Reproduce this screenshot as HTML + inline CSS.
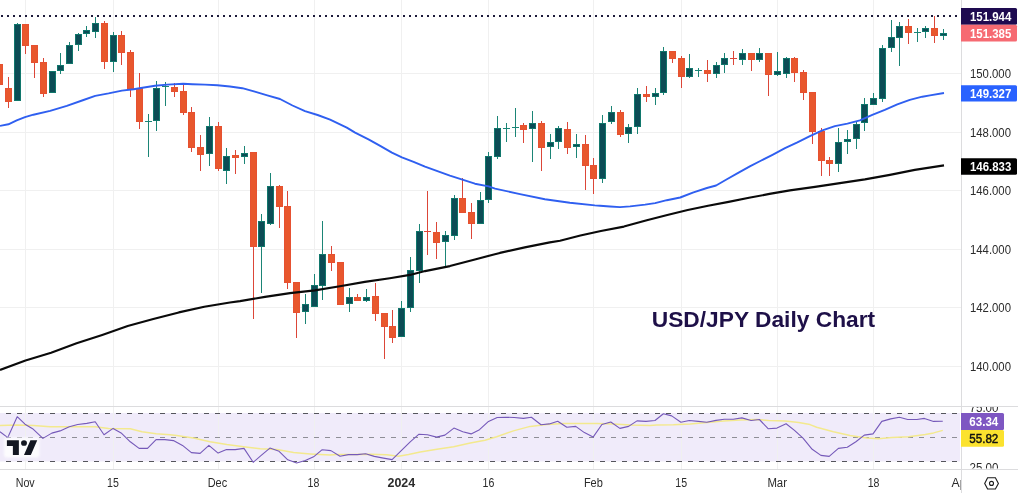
<!DOCTYPE html>
<html lang="en"><head><meta charset="utf-8"><title>USD/JPY Daily Chart</title>
<style>html,body{margin:0;padding:0;background:#fff}body{width:1018px;height:493px;overflow:hidden}svg{display:block}text{font-family:"Liberation Sans",Arial,sans-serif;font-size:12px}</style></head><body>
<svg width="1018" height="493" viewBox="0 0 1018 493">
<defs><clipPath id="cm"><rect x="0" y="0" width="961" height="406"/></clipPath><clipPath id="cr"><rect x="0" y="407" width="961" height="62"/></clipPath><clipPath id="ca"><rect x="962" y="407" width="56" height="61.6"/></clipPath><clipPath id="ct"><rect x="0" y="470" width="961" height="23"/></clipPath><filter id="bl" x="-20%" y="-20%" width="140%" height="140%"><feGaussianBlur stdDeviation="1.2"/></filter></defs>
<rect width="1018" height="493" fill="#fff"/>
<rect x="0" y="413" width="960" height="48.5" fill="#f0ebfa"/>
<g stroke="#f0f0f0" stroke-width="1" shape-rendering="crispEdges">
<line x1="25.5" y1="0" x2="25.5" y2="469"/>
<line x1="113.5" y1="0" x2="113.5" y2="469"/>
<line x1="218.5" y1="0" x2="218.5" y2="469"/>
<line x1="314.5" y1="0" x2="314.5" y2="469"/>
<line x1="401.5" y1="0" x2="401.5" y2="469"/>
<line x1="488.5" y1="0" x2="488.5" y2="469"/>
<line x1="593.5" y1="0" x2="593.5" y2="469"/>
<line x1="681.5" y1="0" x2="681.5" y2="469"/>
<line x1="777.5" y1="0" x2="777.5" y2="469"/>
<line x1="873.5" y1="0" x2="873.5" y2="469"/>
<line x1="0" y1="73.5" x2="961" y2="73.5"/>
<line x1="0" y1="132.5" x2="961" y2="132.5"/>
<line x1="0" y1="190.5" x2="961" y2="190.5"/>
<line x1="0" y1="249.5" x2="961" y2="249.5"/>
<line x1="0" y1="307.5" x2="961" y2="307.5"/>
<line x1="0" y1="366.5" x2="961" y2="366.5"/>
</g>
<g stroke-width="1" stroke-dasharray="5 6" fill="none" shape-rendering="crispEdges">
<line x1="-5" y1="413.5" x2="958" y2="413.5" stroke="#55555c"/>
<line x1="-5" y1="437.5" x2="958" y2="437.5" stroke="#8e8e96"/>
<line x1="-5" y1="461.5" x2="958" y2="461.5" stroke="#55555c"/>
</g>
<line x1="1" y1="16" x2="961" y2="16" stroke="#1c1a3a" stroke-width="2" stroke-dasharray="2 4"/>
<g clip-path="url(#cm)" shape-rendering="crispEdges">
<rect x="-1.0" y="63.5" width="1" height="21.8" fill="#dc4638"/>
<rect x="-4.0" y="63.5" width="7" height="21.8" fill="#e65131"/>
<rect x="-3.0" y="64.5" width="5" height="19.8" fill="#e8572d"/>
<rect x="8.0" y="77.2" width="1" height="30.4" fill="#dc4638"/>
<rect x="5.0" y="87.8" width="7" height="13.8" fill="#e65131"/>
<rect x="6.0" y="88.8" width="5" height="11.8" fill="#e8572d"/>
<rect x="17.0" y="23.0" width="1" height="78.4" fill="#1b8576"/>
<rect x="14.0" y="24.0" width="7" height="77.4" fill="#10776c"/>
<rect x="15.0" y="25.0" width="5" height="75.4" fill="#0c4c55"/>
<rect x="25.0" y="24.0" width="1" height="29.6" fill="#dc4638"/>
<rect x="22.0" y="24.0" width="7" height="21.7" fill="#e65131"/>
<rect x="23.0" y="25.0" width="5" height="19.7" fill="#e8572d"/>
<rect x="34.0" y="45.2" width="1" height="32.8" fill="#dc4638"/>
<rect x="31.0" y="45.2" width="7" height="17.3" fill="#e65131"/>
<rect x="32.0" y="46.2" width="5" height="15.3" fill="#e8572d"/>
<rect x="43.0" y="58.3" width="1" height="38.7" fill="#dc4638"/>
<rect x="40.0" y="62.3" width="7" height="31.5" fill="#e65131"/>
<rect x="41.0" y="63.3" width="5" height="29.5" fill="#e8572d"/>
<rect x="52.0" y="71.4" width="1" height="22.0" fill="#1b8576"/>
<rect x="49.0" y="71.4" width="7" height="22.0" fill="#10776c"/>
<rect x="50.0" y="72.4" width="5" height="20.0" fill="#0c4c55"/>
<rect x="60.0" y="53.2" width="1" height="21.2" fill="#1b8576"/>
<rect x="57.0" y="64.5" width="7" height="6.7" fill="#10776c"/>
<rect x="58.0" y="65.5" width="5" height="4.7" fill="#0c4c55"/>
<rect x="69.0" y="42.2" width="1" height="22.0" fill="#1b8576"/>
<rect x="66.0" y="45.3" width="7" height="18.9" fill="#10776c"/>
<rect x="67.0" y="46.3" width="5" height="16.9" fill="#0c4c55"/>
<rect x="78.0" y="33.0" width="1" height="17.6" fill="#1b8576"/>
<rect x="75.0" y="34.2" width="7" height="11.2" fill="#10776c"/>
<rect x="76.0" y="35.2" width="5" height="9.2" fill="#0c4c55"/>
<rect x="86.0" y="26.1" width="1" height="10.6" fill="#1b8576"/>
<rect x="83.0" y="30.4" width="7" height="4.0" fill="#10776c"/>
<rect x="84.0" y="31.4" width="5" height="2.0" fill="#0c4c55"/>
<rect x="95.0" y="17.3" width="1" height="20.5" fill="#1b8576"/>
<rect x="92.0" y="23.2" width="7" height="8.3" fill="#10776c"/>
<rect x="93.0" y="24.2" width="5" height="6.3" fill="#0c4c55"/>
<rect x="104.0" y="21.2" width="1" height="47.4" fill="#dc4638"/>
<rect x="101.0" y="23.2" width="7" height="39.2" fill="#e65131"/>
<rect x="102.0" y="24.2" width="5" height="37.2" fill="#e8572d"/>
<rect x="113.0" y="32.0" width="1" height="39.6" fill="#1b8576"/>
<rect x="110.0" y="35.4" width="7" height="27.0" fill="#10776c"/>
<rect x="111.0" y="36.4" width="5" height="25.0" fill="#0c4c55"/>
<rect x="121.0" y="31.2" width="1" height="33.7" fill="#dc4638"/>
<rect x="118.0" y="35.0" width="7" height="17.7" fill="#e65131"/>
<rect x="119.0" y="36.0" width="5" height="15.7" fill="#e8572d"/>
<rect x="130.0" y="49.9" width="1" height="47.0" fill="#dc4638"/>
<rect x="127.0" y="52.2" width="7" height="36.4" fill="#e65131"/>
<rect x="128.0" y="53.2" width="5" height="34.4" fill="#e8572d"/>
<rect x="139.0" y="73.0" width="1" height="55.7" fill="#dc4638"/>
<rect x="136.0" y="88.2" width="7" height="33.3" fill="#e65131"/>
<rect x="137.0" y="89.2" width="5" height="31.3" fill="#e8572d"/>
<rect x="148.0" y="114.0" width="1" height="43.4" fill="#1b8576"/>
<rect x="145.0" y="120.5" width="7" height="1.0" fill="#1b8576"/>
<rect x="156.0" y="81.2" width="1" height="49.4" fill="#1b8576"/>
<rect x="153.0" y="87.5" width="7" height="33.7" fill="#10776c"/>
<rect x="154.0" y="88.5" width="5" height="31.7" fill="#0c4c55"/>
<rect x="165.0" y="82.0" width="1" height="23.8" fill="#1b8576"/>
<rect x="162.0" y="86.0" width="7" height="1.0" fill="#1b8576"/>
<rect x="174.0" y="82.5" width="1" height="14.2" fill="#dc4638"/>
<rect x="171.0" y="87.0" width="7" height="5.0" fill="#e65131"/>
<rect x="172.0" y="88.0" width="5" height="3.0" fill="#e8572d"/>
<rect x="183.0" y="83.7" width="1" height="31.7" fill="#dc4638"/>
<rect x="180.0" y="91.2" width="7" height="21.7" fill="#e65131"/>
<rect x="181.0" y="92.2" width="5" height="19.7" fill="#e8572d"/>
<rect x="191.0" y="107.4" width="1" height="44.2" fill="#dc4638"/>
<rect x="188.0" y="111.9" width="7" height="36.0" fill="#e65131"/>
<rect x="189.0" y="112.9" width="5" height="34.0" fill="#e8572d"/>
<rect x="200.0" y="135.4" width="1" height="35.2" fill="#dc4638"/>
<rect x="197.0" y="147.4" width="7" height="7.5" fill="#e65131"/>
<rect x="198.0" y="148.4" width="5" height="5.5" fill="#e8572d"/>
<rect x="209.0" y="116.7" width="1" height="48.9" fill="#1b8576"/>
<rect x="206.0" y="126.2" width="7" height="28.2" fill="#10776c"/>
<rect x="207.0" y="127.2" width="5" height="26.2" fill="#0c4c55"/>
<rect x="218.0" y="122.4" width="1" height="48.2" fill="#dc4638"/>
<rect x="215.0" y="126.2" width="7" height="42.9" fill="#e65131"/>
<rect x="216.0" y="127.2" width="5" height="40.9" fill="#e8572d"/>
<rect x="226.0" y="148.3" width="1" height="35.4" fill="#1b8576"/>
<rect x="223.0" y="155.5" width="7" height="15.9" fill="#10776c"/>
<rect x="224.0" y="156.5" width="5" height="13.9" fill="#0c4c55"/>
<rect x="235.0" y="150.2" width="1" height="23.5" fill="#dc4638"/>
<rect x="232.0" y="155.0" width="7" height="2.6" fill="#e65131"/>
<rect x="233.0" y="156.0" width="5" height="0.6" fill="#e8572d"/>
<rect x="244.0" y="145.8" width="1" height="17.9" fill="#1b8576"/>
<rect x="241.0" y="152.5" width="7" height="4.9" fill="#10776c"/>
<rect x="242.0" y="153.5" width="5" height="2.9" fill="#0c4c55"/>
<rect x="253.0" y="152.2" width="1" height="166.3" fill="#dc4638"/>
<rect x="250.0" y="152.2" width="7" height="94.6" fill="#e65131"/>
<rect x="251.0" y="153.2" width="5" height="92.6" fill="#e8572d"/>
<rect x="261.0" y="214.1" width="1" height="78.8" fill="#1b8576"/>
<rect x="258.0" y="221.1" width="7" height="25.7" fill="#10776c"/>
<rect x="259.0" y="222.1" width="5" height="23.7" fill="#0c4c55"/>
<rect x="270.0" y="173.0" width="1" height="51.9" fill="#1b8576"/>
<rect x="267.0" y="186.2" width="7" height="37.4" fill="#10776c"/>
<rect x="268.0" y="187.2" width="5" height="35.4" fill="#0c4c55"/>
<rect x="279.0" y="185.0" width="1" height="42.7" fill="#dc4638"/>
<rect x="276.0" y="185.7" width="7" height="21.2" fill="#e65131"/>
<rect x="277.0" y="186.7" width="5" height="19.2" fill="#e8572d"/>
<rect x="287.0" y="191.2" width="1" height="97.5" fill="#dc4638"/>
<rect x="284.0" y="206.1" width="7" height="76.8" fill="#e65131"/>
<rect x="285.0" y="207.1" width="5" height="74.8" fill="#e8572d"/>
<rect x="296.0" y="281.9" width="1" height="55.9" fill="#dc4638"/>
<rect x="293.0" y="281.9" width="7" height="31.0" fill="#e65131"/>
<rect x="294.0" y="282.9" width="5" height="29.0" fill="#e8572d"/>
<rect x="305.0" y="293.6" width="1" height="30.0" fill="#1b8576"/>
<rect x="302.0" y="304.4" width="7" height="8.0" fill="#10776c"/>
<rect x="303.0" y="305.4" width="5" height="6.0" fill="#0c4c55"/>
<rect x="314.0" y="273.7" width="1" height="32.9" fill="#1b8576"/>
<rect x="311.0" y="284.9" width="7" height="21.7" fill="#10776c"/>
<rect x="312.0" y="285.9" width="5" height="19.7" fill="#0c4c55"/>
<rect x="322.0" y="221.1" width="1" height="78.8" fill="#1b8576"/>
<rect x="319.0" y="254.2" width="7" height="31.5" fill="#10776c"/>
<rect x="320.0" y="255.2" width="5" height="29.5" fill="#0c4c55"/>
<rect x="331.0" y="246.2" width="1" height="25.0" fill="#dc4638"/>
<rect x="328.0" y="254.2" width="7" height="8.7" fill="#e65131"/>
<rect x="329.0" y="255.2" width="5" height="6.7" fill="#e8572d"/>
<rect x="340.0" y="261.9" width="1" height="43.5" fill="#dc4638"/>
<rect x="337.0" y="261.9" width="7" height="43.5" fill="#e65131"/>
<rect x="338.0" y="262.9" width="5" height="41.5" fill="#e8572d"/>
<rect x="349.0" y="288.0" width="1" height="23.7" fill="#1b8576"/>
<rect x="346.0" y="296.7" width="7" height="7.7" fill="#10776c"/>
<rect x="347.0" y="297.7" width="5" height="5.7" fill="#0c4c55"/>
<rect x="357.0" y="294.3" width="1" height="6.2" fill="#dc4638"/>
<rect x="354.0" y="296.7" width="7" height="3.8" fill="#e65131"/>
<rect x="355.0" y="297.7" width="5" height="1.8" fill="#e8572d"/>
<rect x="366.0" y="289.3" width="1" height="12.5" fill="#1b8576"/>
<rect x="363.0" y="296.7" width="7" height="3.8" fill="#10776c"/>
<rect x="364.0" y="297.7" width="5" height="1.8" fill="#0c4c55"/>
<rect x="375.0" y="283.2" width="1" height="37.7" fill="#dc4638"/>
<rect x="372.0" y="296.2" width="7" height="17.5" fill="#e65131"/>
<rect x="373.0" y="297.2" width="5" height="15.5" fill="#e8572d"/>
<rect x="384.0" y="312.9" width="1" height="45.7" fill="#dc4638"/>
<rect x="381.0" y="312.9" width="7" height="14.0" fill="#e65131"/>
<rect x="382.0" y="313.9" width="5" height="12.0" fill="#e8572d"/>
<rect x="392.0" y="309.9" width="1" height="33.0" fill="#dc4638"/>
<rect x="389.0" y="326.1" width="7" height="11.8" fill="#e65131"/>
<rect x="390.0" y="327.1" width="5" height="9.8" fill="#e8572d"/>
<rect x="401.0" y="301.2" width="1" height="36.2" fill="#1b8576"/>
<rect x="398.0" y="308.2" width="7" height="29.2" fill="#10776c"/>
<rect x="399.0" y="309.2" width="5" height="27.2" fill="#0c4c55"/>
<rect x="410.0" y="256.9" width="1" height="54.8" fill="#1b8576"/>
<rect x="407.0" y="270.0" width="7" height="38.3" fill="#10776c"/>
<rect x="408.0" y="271.0" width="5" height="36.3" fill="#0c4c55"/>
<rect x="419.0" y="223.7" width="1" height="59.3" fill="#1b8576"/>
<rect x="416.0" y="231.1" width="7" height="39.5" fill="#10776c"/>
<rect x="417.0" y="232.1" width="5" height="37.5" fill="#0c4c55"/>
<rect x="427.0" y="190.5" width="1" height="64.4" fill="#dc4638"/>
<rect x="424.0" y="231.0" width="7" height="1.0" fill="#dc4638"/>
<rect x="436.0" y="221.9" width="1" height="37.2" fill="#dc4638"/>
<rect x="433.0" y="231.9" width="7" height="11.0" fill="#e65131"/>
<rect x="434.0" y="232.9" width="5" height="9.0" fill="#e8572d"/>
<rect x="445.0" y="230.6" width="1" height="35.5" fill="#1b8576"/>
<rect x="442.0" y="234.9" width="7" height="7.5" fill="#10776c"/>
<rect x="443.0" y="235.9" width="5" height="5.5" fill="#0c4c55"/>
<rect x="454.0" y="194.9" width="1" height="45.0" fill="#1b8576"/>
<rect x="451.0" y="197.9" width="7" height="37.7" fill="#10776c"/>
<rect x="452.0" y="198.9" width="5" height="35.7" fill="#0c4c55"/>
<rect x="462.0" y="178.0" width="1" height="34.9" fill="#dc4638"/>
<rect x="459.0" y="197.9" width="7" height="15.0" fill="#e65131"/>
<rect x="460.0" y="198.9" width="5" height="13.0" fill="#e8572d"/>
<rect x="471.0" y="202.9" width="1" height="36.2" fill="#dc4638"/>
<rect x="468.0" y="211.9" width="7" height="11.8" fill="#e65131"/>
<rect x="469.0" y="212.9" width="5" height="9.8" fill="#e8572d"/>
<rect x="480.0" y="192.2" width="1" height="31.5" fill="#1b8576"/>
<rect x="477.0" y="200.0" width="7" height="23.7" fill="#10776c"/>
<rect x="478.0" y="201.0" width="5" height="21.7" fill="#0c4c55"/>
<rect x="488.0" y="151.9" width="1" height="50.7" fill="#1b8576"/>
<rect x="485.0" y="156.1" width="7" height="44.2" fill="#10776c"/>
<rect x="486.0" y="157.1" width="5" height="42.2" fill="#0c4c55"/>
<rect x="497.0" y="115.7" width="1" height="43.7" fill="#1b8576"/>
<rect x="494.0" y="128.2" width="7" height="28.4" fill="#10776c"/>
<rect x="495.0" y="129.2" width="5" height="26.4" fill="#0c4c55"/>
<rect x="506.0" y="122.9" width="1" height="19.0" fill="#1b8576"/>
<rect x="503.0" y="128.2" width="7" height="1.0" fill="#1b8576"/>
<rect x="515.0" y="108.0" width="1" height="28.9" fill="#1b8576"/>
<rect x="512.0" y="127.0" width="7" height="1.0" fill="#1b8576"/>
<rect x="523.0" y="122.9" width="1" height="20.0" fill="#dc4638"/>
<rect x="520.0" y="124.9" width="7" height="5.0" fill="#e65131"/>
<rect x="521.0" y="125.9" width="5" height="3.0" fill="#e8572d"/>
<rect x="532.0" y="110.7" width="1" height="51.2" fill="#1b8576"/>
<rect x="529.0" y="123.2" width="7" height="6.2" fill="#10776c"/>
<rect x="530.0" y="124.2" width="5" height="4.2" fill="#0c4c55"/>
<rect x="541.0" y="120.7" width="1" height="49.9" fill="#dc4638"/>
<rect x="538.0" y="122.9" width="7" height="25.0" fill="#e65131"/>
<rect x="539.0" y="123.9" width="5" height="23.0" fill="#e8572d"/>
<rect x="550.0" y="134.4" width="1" height="24.2" fill="#1b8576"/>
<rect x="547.0" y="142.4" width="7" height="5.0" fill="#10776c"/>
<rect x="548.0" y="143.4" width="5" height="3.0" fill="#0c4c55"/>
<rect x="558.0" y="126.2" width="1" height="22.5" fill="#1b8576"/>
<rect x="555.0" y="128.2" width="7" height="14.2" fill="#10776c"/>
<rect x="556.0" y="129.2" width="5" height="12.2" fill="#0c4c55"/>
<rect x="567.0" y="121.9" width="1" height="31.7" fill="#dc4638"/>
<rect x="564.0" y="129.2" width="7" height="18.7" fill="#e65131"/>
<rect x="565.0" y="130.2" width="5" height="16.7" fill="#e8572d"/>
<rect x="576.0" y="134.2" width="1" height="23.7" fill="#1b8576"/>
<rect x="573.0" y="144.2" width="7" height="3.2" fill="#10776c"/>
<rect x="574.0" y="145.2" width="5" height="1.2" fill="#0c4c55"/>
<rect x="585.0" y="134.9" width="1" height="54.9" fill="#dc4638"/>
<rect x="582.0" y="144.2" width="7" height="21.4" fill="#e65131"/>
<rect x="583.0" y="145.2" width="5" height="19.4" fill="#e8572d"/>
<rect x="593.0" y="157.9" width="1" height="35.7" fill="#dc4638"/>
<rect x="590.0" y="164.9" width="7" height="14.2" fill="#e65131"/>
<rect x="591.0" y="165.9" width="5" height="12.2" fill="#e8572d"/>
<rect x="602.0" y="115.0" width="1" height="67.9" fill="#1b8576"/>
<rect x="599.0" y="122.9" width="7" height="55.7" fill="#10776c"/>
<rect x="600.0" y="123.9" width="5" height="53.7" fill="#0c4c55"/>
<rect x="611.0" y="106.2" width="1" height="17.5" fill="#1b8576"/>
<rect x="608.0" y="112.2" width="7" height="9.5" fill="#10776c"/>
<rect x="609.0" y="113.2" width="5" height="7.5" fill="#0c4c55"/>
<rect x="620.0" y="109.5" width="1" height="27.2" fill="#dc4638"/>
<rect x="617.0" y="112.0" width="7" height="22.9" fill="#e65131"/>
<rect x="618.0" y="113.0" width="5" height="20.9" fill="#e8572d"/>
<rect x="628.0" y="124.2" width="1" height="18.7" fill="#1b8576"/>
<rect x="625.0" y="127.4" width="7" height="7.0" fill="#10776c"/>
<rect x="626.0" y="128.4" width="5" height="5.0" fill="#0c4c55"/>
<rect x="637.0" y="88.0" width="1" height="45.7" fill="#1b8576"/>
<rect x="634.0" y="94.2" width="7" height="32.9" fill="#10776c"/>
<rect x="635.0" y="95.2" width="5" height="30.9" fill="#0c4c55"/>
<rect x="646.0" y="86.2" width="1" height="15.4" fill="#dc4638"/>
<rect x="643.0" y="94.1" width="7" height="2.8" fill="#e65131"/>
<rect x="644.0" y="95.1" width="5" height="0.8" fill="#e8572d"/>
<rect x="655.0" y="87.9" width="1" height="17.0" fill="#1b8576"/>
<rect x="652.0" y="93.1" width="7" height="3.5" fill="#10776c"/>
<rect x="653.0" y="94.1" width="5" height="1.5" fill="#0c4c55"/>
<rect x="663.0" y="47.0" width="1" height="48.4" fill="#1b8576"/>
<rect x="660.0" y="51.2" width="7" height="41.9" fill="#10776c"/>
<rect x="661.0" y="52.2" width="5" height="39.9" fill="#0c4c55"/>
<rect x="672.0" y="50.7" width="1" height="12.2" fill="#dc4638"/>
<rect x="669.0" y="50.7" width="7" height="8.0" fill="#e65131"/>
<rect x="670.0" y="51.7" width="5" height="6.0" fill="#e8572d"/>
<rect x="681.0" y="56.2" width="1" height="31.7" fill="#dc4638"/>
<rect x="678.0" y="57.9" width="7" height="19.0" fill="#e65131"/>
<rect x="679.0" y="58.9" width="5" height="17.0" fill="#e8572d"/>
<rect x="689.0" y="54.2" width="1" height="23.7" fill="#1b8576"/>
<rect x="686.0" y="68.2" width="7" height="8.5" fill="#10776c"/>
<rect x="687.0" y="69.2" width="5" height="6.5" fill="#0c4c55"/>
<rect x="698.0" y="67.9" width="1" height="9.0" fill="#1b8576"/>
<rect x="695.0" y="70.2" width="7" height="1.0" fill="#1b8576"/>
<rect x="707.0" y="59.9" width="1" height="22.0" fill="#dc4638"/>
<rect x="704.0" y="70.4" width="7" height="3.3" fill="#e65131"/>
<rect x="705.0" y="71.4" width="5" height="1.3" fill="#e8572d"/>
<rect x="716.0" y="61.9" width="1" height="16.0" fill="#1b8576"/>
<rect x="713.0" y="65.4" width="7" height="8.3" fill="#10776c"/>
<rect x="714.0" y="66.4" width="5" height="6.3" fill="#0c4c55"/>
<rect x="724.0" y="53.0" width="1" height="19.9" fill="#1b8576"/>
<rect x="721.0" y="58.2" width="7" height="7.2" fill="#10776c"/>
<rect x="722.0" y="59.2" width="5" height="5.2" fill="#0c4c55"/>
<rect x="733.0" y="50.7" width="1" height="14.2" fill="#dc4638"/>
<rect x="730.0" y="57.5" width="7" height="1.0" fill="#dc4638"/>
<rect x="742.0" y="49.2" width="1" height="15.7" fill="#1b8576"/>
<rect x="739.0" y="53.2" width="7" height="7.2" fill="#10776c"/>
<rect x="740.0" y="54.2" width="5" height="5.2" fill="#0c4c55"/>
<rect x="751.0" y="53.0" width="1" height="18.2" fill="#dc4638"/>
<rect x="748.0" y="53.0" width="7" height="6.9" fill="#e65131"/>
<rect x="749.0" y="54.0" width="5" height="4.9" fill="#e8572d"/>
<rect x="759.0" y="48.2" width="1" height="13.7" fill="#1b8576"/>
<rect x="756.0" y="53.2" width="7" height="6.7" fill="#10776c"/>
<rect x="757.0" y="54.2" width="5" height="4.7" fill="#0c4c55"/>
<rect x="768.0" y="53.0" width="1" height="43.2" fill="#dc4638"/>
<rect x="765.0" y="53.0" width="7" height="21.9" fill="#e65131"/>
<rect x="766.0" y="54.0" width="5" height="19.9" fill="#e8572d"/>
<rect x="777.0" y="51.8" width="1" height="24.2" fill="#1b8576"/>
<rect x="774.0" y="71.2" width="7" height="3.7" fill="#10776c"/>
<rect x="775.0" y="72.2" width="5" height="1.7" fill="#0c4c55"/>
<rect x="786.0" y="57.0" width="1" height="20.9" fill="#1b8576"/>
<rect x="783.0" y="58.0" width="7" height="16.4" fill="#10776c"/>
<rect x="784.0" y="59.0" width="5" height="14.4" fill="#0c4c55"/>
<rect x="794.0" y="56.7" width="1" height="25.0" fill="#dc4638"/>
<rect x="791.0" y="58.0" width="7" height="14.9" fill="#e65131"/>
<rect x="792.0" y="59.0" width="5" height="12.9" fill="#e8572d"/>
<rect x="803.0" y="70.4" width="1" height="29.5" fill="#dc4638"/>
<rect x="800.0" y="71.9" width="7" height="21.0" fill="#e65131"/>
<rect x="801.0" y="72.9" width="5" height="19.0" fill="#e8572d"/>
<rect x="812.0" y="91.9" width="1" height="51.8" fill="#dc4638"/>
<rect x="809.0" y="91.9" width="7" height="40.0" fill="#e65131"/>
<rect x="810.0" y="92.9" width="5" height="38.0" fill="#e8572d"/>
<rect x="821.0" y="128.0" width="1" height="47.6" fill="#dc4638"/>
<rect x="818.0" y="131.2" width="7" height="29.9" fill="#e65131"/>
<rect x="819.0" y="132.2" width="5" height="27.9" fill="#e8572d"/>
<rect x="829.0" y="157.0" width="1" height="18.6" fill="#dc4638"/>
<rect x="826.0" y="160.4" width="7" height="3.7" fill="#e65131"/>
<rect x="827.0" y="161.4" width="5" height="1.7" fill="#e8572d"/>
<rect x="838.0" y="127.9" width="1" height="44.0" fill="#1b8576"/>
<rect x="835.0" y="142.4" width="7" height="21.2" fill="#10776c"/>
<rect x="836.0" y="143.4" width="5" height="19.2" fill="#0c4c55"/>
<rect x="847.0" y="130.4" width="1" height="23.3" fill="#1b8576"/>
<rect x="844.0" y="139.4" width="7" height="3.0" fill="#10776c"/>
<rect x="845.0" y="140.4" width="5" height="1.0" fill="#0c4c55"/>
<rect x="856.0" y="122.4" width="1" height="26.8" fill="#1b8576"/>
<rect x="853.0" y="123.9" width="7" height="15.5" fill="#10776c"/>
<rect x="854.0" y="124.9" width="5" height="13.5" fill="#0c4c55"/>
<rect x="864.0" y="98.0" width="1" height="33.2" fill="#1b8576"/>
<rect x="861.0" y="103.7" width="7" height="19.7" fill="#10776c"/>
<rect x="862.0" y="104.7" width="5" height="17.7" fill="#0c4c55"/>
<rect x="873.0" y="93.0" width="1" height="12.4" fill="#1b8576"/>
<rect x="870.0" y="98.2" width="7" height="7.2" fill="#10776c"/>
<rect x="871.0" y="99.2" width="5" height="5.2" fill="#0c4c55"/>
<rect x="882.0" y="44.9" width="1" height="57.5" fill="#1b8576"/>
<rect x="879.0" y="48.0" width="7" height="50.5" fill="#10776c"/>
<rect x="880.0" y="49.0" width="5" height="48.5" fill="#0c4c55"/>
<rect x="891.0" y="20.1" width="1" height="31.7" fill="#1b8576"/>
<rect x="888.0" y="37.3" width="7" height="11.1" fill="#10776c"/>
<rect x="889.0" y="38.3" width="5" height="9.1" fill="#0c4c55"/>
<rect x="899.0" y="22.1" width="1" height="43.6" fill="#1b8576"/>
<rect x="896.0" y="26.1" width="7" height="11.4" fill="#10776c"/>
<rect x="897.0" y="27.1" width="5" height="9.4" fill="#0c4c55"/>
<rect x="908.0" y="19.2" width="1" height="24.4" fill="#dc4638"/>
<rect x="905.0" y="26.1" width="7" height="6.5" fill="#e65131"/>
<rect x="906.0" y="27.1" width="5" height="4.5" fill="#e8572d"/>
<rect x="917.0" y="28.1" width="1" height="13.6" fill="#1b8576"/>
<rect x="914.0" y="32.0" width="7" height="1.0" fill="#1b8576"/>
<rect x="925.0" y="26.0" width="1" height="11.5" fill="#1b8576"/>
<rect x="922.0" y="28.4" width="7" height="4.0" fill="#10776c"/>
<rect x="923.0" y="29.4" width="5" height="2.0" fill="#0c4c55"/>
<rect x="934.0" y="15.5" width="1" height="27.0" fill="#dc4638"/>
<rect x="931.0" y="28.1" width="7" height="7.4" fill="#e65131"/>
<rect x="932.0" y="29.1" width="5" height="5.4" fill="#e8572d"/>
<rect x="943.0" y="28.6" width="1" height="10.9" fill="#1b8576"/>
<rect x="940.0" y="33.1" width="7" height="2.5" fill="#10776c"/>
<rect x="941.0" y="34.1" width="5" height="0.5" fill="#0c4c55"/>
</g>
<polyline points="0.0,369.9 25.5,360.5 51.1,352.8 76.6,343.3 102.2,334.9 127.7,326.0 153.3,319.1 178.8,312.4 204.3,306.8 229.9,302.5 240.0,301.1 265.0,296.9 290.0,293.1 314.9,290.4 339.9,286.2 364.8,281.9 389.8,278.2 410.0,274.9 425.0,271.1 449.9,266.1 474.9,259.4 499.9,252.9 524.8,247.4 549.8,242.4 560.0,240.7 580.4,235.6 600.9,231.0 623.9,226.6 646.8,220.2 667.3,215.1 687.7,210.0 708.1,205.7 728.6,201.9 749.0,197.8 769.5,193.9 789.9,190.4 815.0,186.9 839.9,183.1 864.9,179.4 889.9,174.9 914.8,169.9 944.0,165.4" fill="none" stroke="#0a0a0a" stroke-width="2.1" stroke-linejoin="round" stroke-linecap="butt"/>
<polyline points="0.0,125.9 8.4,124.3 16.7,120.4 25.0,117.1 33.4,114.7 50.1,110.9 66.8,105.9 83.5,100.0 95.2,95.9 108.6,93.4 121.9,90.6 133.6,89.2 142.5,87.8 155.0,85.8 167.4,84.6 183.2,83.8 192.4,84.2 204.9,84.6 217.4,85.2 229.9,86.5 242.3,88.2 254.8,91.7 267.3,95.4 280.0,99.0 292.5,105.5 305.0,111.2 317.6,115.0 330.1,119.7 346.8,127.6 355.1,132.6 368.5,139.3 380.2,145.9 391.9,152.6 401.9,157.3 413.6,161.8 425.0,166.7 449.9,175.7 474.9,183.7 488.6,186.4 495.0,188.6 520.0,194.1 544.9,199.3 569.8,202.8 594.8,205.4 600.0,205.7 610.0,206.5 620.0,207.1 630.1,206.4 645.1,204.6 655.1,203.1 666.8,200.2 680.2,197.5 693.5,192.3 706.9,188.0 716.1,185.5 726.9,179.3 738.6,172.7 750.3,166.2 760.3,161.0 772.5,154.8 785.0,148.1 797.4,142.3 809.9,136.1 822.4,130.4 834.9,126.1 847.4,123.6 859.9,120.4 872.3,114.9 884.8,109.9 897.3,104.4 909.8,99.9 922.3,96.7 930.0,95.4 944.0,93.0" fill="none" stroke="#2f5ff0" stroke-width="1.9" stroke-linejoin="round" stroke-linecap="butt"/>
<g clip-path="url(#cr)">
<polyline points="0.0,425.4 16.7,425.0 33.4,425.4 50.1,426.7 66.8,426.7 83.5,426.7 95.2,426.7 108.6,428.4 130.3,428.7 142.0,431.7 156.1,433.7 170.0,434.7 176.7,435.6 193.4,438.1 210.1,441.8 226.8,444.6 243.5,446.8 260.2,448.8 276.9,449.6 293.6,452.6 310.3,453.9 330.0,455.0 336.7,454.6 353.4,454.6 370.1,454.3 386.8,454.8 398.5,456.3 408.5,454.6 420.2,452.1 436.9,449.3 453.6,446.8 470.3,443.1 485.0,440.2 496.7,436.7 513.4,430.9 530.1,426.4 546.8,424.5 563.5,423.4 580.2,423.4 596.9,423.4 613.6,423.9 630.3,425.1 650.0,425.4 656.7,425.1 673.4,424.7 690.1,423.9 706.8,422.5 723.5,420.9 740.2,420.0 756.9,419.5 768.6,420.5 785.3,420.9 798.7,422.5 810.0,424.6 816.7,427.2 833.4,431.7 850.1,435.4 866.8,438.1 878.5,438.7 891.9,437.6 908.6,436.7 925.3,434.6 933.6,432.9 942.8,430.4" fill="none" stroke="#f3e98e" stroke-width="1.5" stroke-linejoin="round"/>
<polyline points="0.0,431.7 7.8,437.6 17.2,416.7 25.0,424.2 32.6,428.7 42.9,438.4 51.8,433.1 60.1,430.9 69.3,426.7 77.7,424.5 86.8,423.4 95.2,421.7 104.0,434.7 113.1,428.4 121.1,432.9 130.3,441.8 139.1,448.4 147.5,448.4 156.1,439.6 165.0,439.6 173.4,440.6 182.5,445.4 191.4,452.6 200.1,453.4 208.9,445.4 218.1,453.1 226.5,449.6 235.2,449.6 244.0,448.4 253.2,462.3 261.5,455.1 269.9,448.1 279.1,451.3 287.8,459.8 296.6,463.0 305.3,460.5 313.6,456.8 322.2,449.7 330.9,450.6 340.0,456.3 348.4,454.6 357.2,454.6 365.6,453.8 374.3,456.4 383.5,458.1 392.1,459.6 401.0,450.9 410.2,441.8 419.0,434.2 427.4,434.7 436.6,437.1 444.9,435.1 453.9,428.1 462.8,431.7 471.1,433.9 479.5,429.7 488.5,421.4 497.2,417.5 505.9,417.2 514.2,417.5 523.4,418.4 531.4,417.2 541.0,424.7 549.3,423.9 557.7,421.2 566.8,427.2 575.7,426.4 584.4,432.6 593.1,437.1 601.9,424.5 610.8,422.0 619.9,428.4 628.6,426.4 637.0,420.9 646.0,421.4 655.0,420.5 663.4,413.7 671.7,415.9 680.9,422.2 689.3,420.5 698.4,421.4 706.8,422.2 716.0,420.4 724.3,419.2 733.2,419.2 741.9,417.9 751.1,420.5 759.4,419.5 768.1,428.7 777.0,428.1 786.1,423.7 794.5,430.4 803.0,438.2 812.2,449.3 820.9,455.4 829.2,456.4 838.4,448.4 847.3,447.3 855.9,441.8 864.3,435.1 873.0,433.9 881.8,421.4 890.7,418.9 899.4,417.2 907.7,419.5 916.9,419.5 924.4,418.4 933.6,421.4 942.8,421.2" fill="none" stroke="#7559b9" stroke-width="1.1" stroke-linejoin="round"/>
</g>
<rect x="4" y="437.5" width="35.5" height="20" rx="3" fill="#fff" opacity="0.85" filter="url(#bl)"/>
<g fill="#131722" transform="translate(6.9 436.9) scale(0.855 0.823)"><path d="M14 22H7V11H0V4h14v18zM28 22h-8l7.5-18h8L28 22z"/><circle cx="20" cy="7.4" r="3.45"/></g>
<g stroke="#dcdcde" stroke-width="1" shape-rendering="crispEdges"><line x1="0" y1="406.5" x2="1018" y2="406.5"/><line x1="0" y1="469.5" x2="1018" y2="469.5"/><line x1="961.5" y1="0" x2="961.5" y2="493"/></g>
<text x="651.7" y="327.4" style="font-size:22px" font-weight="bold" fill="#1e1048" textLength="223.5" lengthAdjust="spacingAndGlyphs">USD/JPY Daily Chart</text>
<text x="970" y="77.9" fill="#2b2b2b" textLength="41" lengthAdjust="spacingAndGlyphs">150.000</text>
<text x="970" y="136.8" fill="#2b2b2b" textLength="41" lengthAdjust="spacingAndGlyphs">148.000</text>
<text x="970" y="195.2" fill="#2b2b2b" textLength="41" lengthAdjust="spacingAndGlyphs">146.000</text>
<text x="970" y="253.8" fill="#2b2b2b" textLength="41" lengthAdjust="spacingAndGlyphs">144.000</text>
<text x="970" y="312.4" fill="#2b2b2b" textLength="41" lengthAdjust="spacingAndGlyphs">142.000</text>
<text x="970" y="371.0" fill="#2b2b2b" textLength="41" lengthAdjust="spacingAndGlyphs">140.000</text>
<path d="M961 8.1H1015.5Q1017 8.1 1017 9.6V23.3Q1017 24.8 1015.5 24.8H961Z" fill="#1e0a50"/>
<text x="970" y="20.9" fill="#fff" font-weight="bold" textLength="41.3" lengthAdjust="spacingAndGlyphs">151.944</text>
<path d="M961 24.8H1015.5Q1017 24.8 1017 26.3V40.0Q1017 41.5 1015.5 41.5H961Z" fill="#f66a72"/>
<text x="970" y="37.5" fill="#fff" font-weight="bold" textLength="41.3" lengthAdjust="spacingAndGlyphs">151.385</text>
<path d="M961 85.2H1015.5Q1017 85.2 1017 86.7V100.1Q1017 101.6 1015.5 101.6H961Z" fill="#2962ff"/>
<text x="970" y="97.8" fill="#fff" font-weight="bold" textLength="41.3" lengthAdjust="spacingAndGlyphs">149.327</text>
<path d="M961 158.2H1015.5Q1017 158.2 1017 159.7V173.2Q1017 174.7 1015.5 174.7H961Z" fill="#000"/>
<text x="970" y="170.8" fill="#fff" font-weight="bold" textLength="41.3" lengthAdjust="spacingAndGlyphs">146.833</text>
<g clip-path="url(#ca)">
<text x="969.5" y="411.8" fill="#2b2b2b" textLength="29" lengthAdjust="spacingAndGlyphs">75.00</text>
<text x="969.5" y="472.2" fill="#2b2b2b" textLength="29" lengthAdjust="spacingAndGlyphs">25.00</text>
</g>
<path d="M961 413H1002.5Q1004 413 1004 414.5V428.5Q1004 430 1002.5 430H961Z" fill="#7e57c2"/>
<text x="969.3" y="425.9" fill="#fff" font-weight="bold" textLength="29" lengthAdjust="spacingAndGlyphs">63.34</text>
<path d="M961 430H1002.5Q1004 430 1004 431.5V445.3Q1004 446.8 1002.5 446.8H961Z" fill="#fbe22e"/>
<text x="969.3" y="443.1" fill="#111" stroke="#111" stroke-width="0.45" textLength="29" lengthAdjust="spacingAndGlyphs">55.82</text>
<g clip-path="url(#ct)" fill="#2b2b2b">
<text x="15.7" y="486.8" textLength="19" lengthAdjust="spacingAndGlyphs">Nov</text>
<text x="107.0" y="486.8" textLength="11.8" lengthAdjust="spacingAndGlyphs">15</text>
<text x="207.7" y="486.8" textLength="19.4" lengthAdjust="spacingAndGlyphs">Dec</text>
<text x="307.6" y="486.8" textLength="11.8" lengthAdjust="spacingAndGlyphs">18</text>
<text x="387.5" y="486.8" font-weight="bold" textLength="27.7" lengthAdjust="spacingAndGlyphs">2024</text>
<text x="482.6" y="486.8" textLength="11.8" lengthAdjust="spacingAndGlyphs">16</text>
<text x="583.9" y="486.8" textLength="19" lengthAdjust="spacingAndGlyphs">Feb</text>
<text x="675.3" y="486.8" textLength="11.8" lengthAdjust="spacingAndGlyphs">15</text>
<text x="767.4" y="486.8" textLength="19.6" lengthAdjust="spacingAndGlyphs">Mar</text>
<text x="867.7" y="486.8" textLength="11.8" lengthAdjust="spacingAndGlyphs">18</text>
<text x="951.5" y="486.8" textLength="19" lengthAdjust="spacingAndGlyphs">Apr</text>
</g>
<g fill="none" stroke="#1a1a1a" stroke-width="1.1" stroke-linejoin="miter"><path d="M984.7 483.4 L987.6 477.8 L995.4 477.8 L998.4 483.4 L995.4 489 L987.6 489 Z"/><circle cx="991.5" cy="483.4" r="2"/></g>
</svg></body></html>
